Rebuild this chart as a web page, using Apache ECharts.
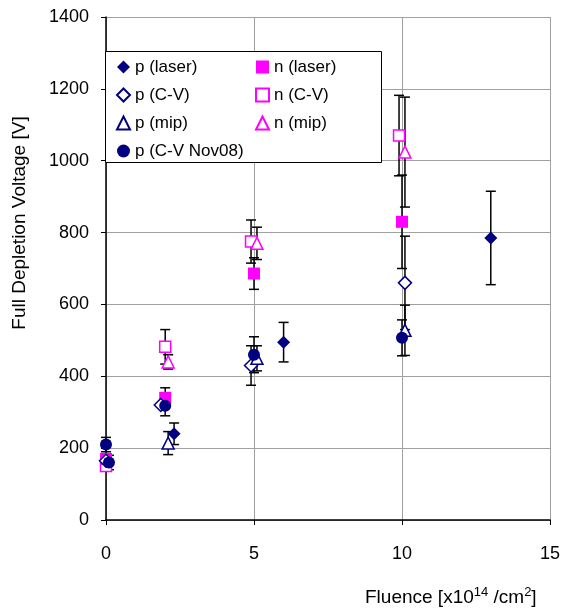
<!DOCTYPE html>
<html>
<head>
<meta charset="utf-8">
<script src="https://cdn.jsdelivr.net/npm/echarts@6/dist/echarts.min.js"></script>
<style>html,body{margin:0;padding:0;background:#fff}#c{width:563px;height:610px}</style>
</head>
<body>
<div id="c"></div>
<script>
// ---- data ----
const xTicks = [0, 5, 10, 15];
const yTicks = [0, 200, 400, 600, 800, 1000, 1200, 1400];

const pLaserX = [2.3, 6.0, 13.0];
const pLaserY = [240, 495, 785];
const pLaserErr = [30, 55, 130];

const nLaserX = [0, 2.0, 5.0, 10.0];
const nLaserY = [170, 340, 686, 830];
const nLaserErr = [null, 28, 44, 130];

const pCVX = [0, 1.85, 4.9, 10.1];
const pCVY = [165, 320, 430, 660];
const pCVErr = [null, null, 55, 130];

const nCVX = [0, 2.0, 4.9, 9.9];
const nCVY = [150, 482, 775, 1070];
const nCVErr = [12, 48, 60, 112];

const pMipX = [2.1, 5.1, 10.1];
const pMipY = [214, 450, 528];
const pMipErr = [32, 35, 70];

const nMipX = [2.1, 5.1, 10.1];
const nMipY = [440, 770, 1024];
const nMipErr = [20, 45, 153];

const pNovX = [0, 0.1, 2.0, 5.0, 10.0];
const pNovY = [210, 160, 318, 460, 507];
const pNovErr = [20, 20, 28, 50, 50];

// ---- helpers ----
const NAVY = '#000080', MAG = '#FF00FF';
const FONT = "'Liberation Sans', Arial, sans-serif";

function pts(xs, ys) { return xs.map((x, i) => [x, ys[i]]); }
function errs(xs, ys, es) {
  const out = [];
  xs.forEach((x, i) => { if (es[i] != null) out.push([x, ys[i] - es[i], ys[i] + es[i]]); });
  return out;
}
function renderErr(params, api) {
  const x = api.value(0), lo = api.value(1), hi = api.value(2);
  const a = api.coord([x, hi]), b = api.coord([x, lo]);
  const w = 5, st = { stroke: '#000', lineWidth: 1.5 };
  return { type: 'group', children: [
    { type: 'line', shape: { x1: a[0], y1: a[1], x2: b[0], y2: b[1] }, style: st },
    { type: 'line', shape: { x1: a[0] - w, y1: a[1], x2: a[0] + w, y2: a[1] }, style: st },
    { type: 'line', shape: { x1: b[0] - w, y1: b[1], x2: b[0] + w, y2: b[1] }, style: st }
  ]};
}
function errSeries(xs, ys, es) {
  return { type: 'custom', renderItem: renderErr, data: errs(xs, ys, es),
    encode: { x: 0, y: [1, 2] }, z: 1, silent: true };
}
function sc(name, xs, ys, symbol, size, color, filled) {
  return { name, type: 'scatter', data: pts(xs, ys), symbol, symbolSize: size, z: 3,
    itemStyle: filled ? { color: color, borderColor: color, borderWidth: 0, opacity: 1 }
                      : { color: '#fff', borderColor: color, borderWidth: 1.5, opacity: 1 } };
}

const chart = echarts.init(document.getElementById('c'), null, { renderer: 'canvas' });
const legendCommon = {
  orient: 'vertical', itemWidth: 13, itemHeight: 13, itemGap: 8, padding: 0, z: 6,
  textStyle: { fontFamily: FONT, fontSize: 17, color: '#000', lineHeight: 20 },
  inactiveColor: '#ccc', selectedMode: false
};
chart.setOption({
  animation: false,
  backgroundColor: '#fff',
  grid: { left: 106, right: 12, top: 17, bottom: 90, containLabel: false },
  xAxis: {
    type: 'value', min: xTicks[0], max: xTicks[xTicks.length - 1], interval: 5,
    axisLine: { show: true, onZero: false, lineStyle: { color: '#000', width: 1.5 } },
    axisTick: { show: true, length: 5, lineStyle: { color: '#000' } },
    axisLabel: { margin: 25, fontFamily: FONT, fontSize: 18, color: '#000', formatter: v => String(v) },
    splitLine: { show: true, lineStyle: { color: '#a0a0a0', width: 1 } }
  },
  yAxis: {
    type: 'value', min: yTicks[0], max: yTicks[yTicks.length - 1], interval: 200,
    axisLine: { show: true, onZero: false, lineStyle: { color: '#000', width: 1.5 } },
    axisTick: { show: true, length: 5, lineStyle: { color: '#000' } },
    axisLabel: { margin: 17, fontFamily: FONT, fontSize: 18, color: '#000', formatter: v => String(v) },
    splitLine: { show: true, lineStyle: { color: '#a0a0a0', width: 1 } }
  },
  legend: [
    Object.assign({ left: 116, top: 57, data: ['p (laser)', 'p (C-V)', 'p (mip)', 'p (C-V Nov08)'] }, legendCommon),
    Object.assign({ left: 255, top: 57, data: ['n (laser)', 'n (C-V)', 'n (mip)'] }, legendCommon)
  ],
  graphic: [
    { type: 'rect', z: 5, shape: { x: 105.5, y: 51.5, width: 276, height: 111 },
      style: { fill: '#fff', stroke: '#000', lineWidth: 1 } },
    { type: 'text', z: 5, x: 20, y: 223, rotation: Math.PI / 2,
      style: { text: 'Full Depletion Voltage [V]', font: '19px ' + FONT, fill: '#000',
               textAlign: 'center', textVerticalAlign: 'middle' } },
    { type: 'text', z: 5, left: 365, top: 586,
      style: { text: 'Fluence [x10{sup|14} /cm{sup|2}]', font: '19px ' + FONT, fill: '#000',
               rich: { sup: { fontSize: 13, fontFamily: FONT, verticalAlign: 'top', padding: [0, 0, 10, 0] } } } }
  ],
  series: [
    errSeries(pLaserX, pLaserY, pLaserErr),
    errSeries(nLaserX, nLaserY, nLaserErr),
    errSeries(pCVX, pCVY, pCVErr),
    errSeries(nCVX, nCVY, nCVErr),
    errSeries(pMipX, pMipY, pMipErr),
    errSeries(nMipX, nMipY, nMipErr),
    errSeries(pNovX, pNovY, pNovErr),
    sc('n (C-V)', nCVX, nCVY, 'rect', 11, MAG, false),
    sc('n (laser)', nLaserX, nLaserY, 'rect', 12, MAG, true),
    sc('p (C-V)', pCVX, pCVY, 'diamond', 13, NAVY, false),
    sc('p (mip)', pMipX, pMipY, 'triangle', 12, NAVY, false),
    sc('n (mip)', nMipX, nMipY, 'triangle', 12, MAG, false),
    sc('p (laser)', pLaserX, pLaserY, 'diamond', 13, NAVY, true),
    sc('p (C-V Nov08)', pNovX, pNovY, 'circle', 12, NAVY, true)
  ]
});
</script>
</body>
</html>
